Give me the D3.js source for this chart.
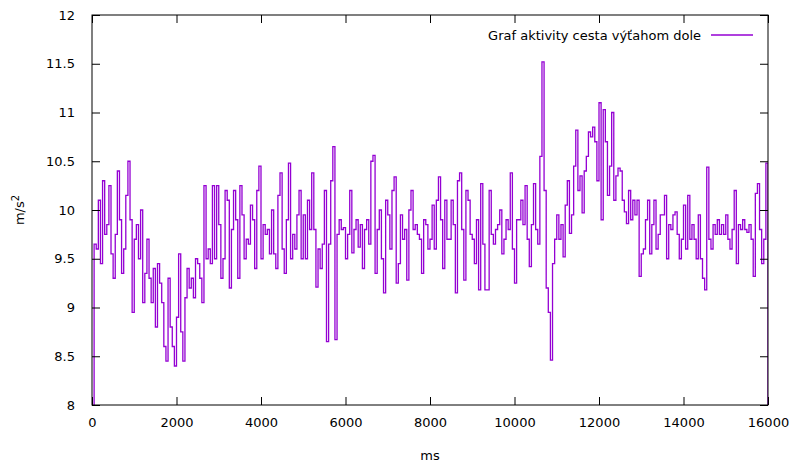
<!DOCTYPE html>
<html lang="sk">
    <head>
        <meta charset="UTF-8">
        <title>Graf aktivity</title>
        <script src="https://d3js.org/d3.v7.min.js"></script>
        <style>
            body {margin: 0; background: white;}
            text {font-family: "DejaVu Sans", Verdana, sans-serif; font-size: 13px; fill: #000;}
        </style>
    </head>
    <body>
        <svg width="799" height="466"></svg>

        <script>
            // sample step in ms, values in m/s^2
            const stepMs = 50;
            const accel = [
                0, 9.65, 9.6, 10.1, 9.45, 10.3, 9.75, 9.85, 10.25, 9.55,
                9.3, 9.75, 10.4, 9.9, 9.35, 9.6, 10.15, 10.5, 9.9, 8.95,
                9.7, 9.85, 9.5, 10.0, 9.05, 9.35, 9.7, 9.3, 9.05, 9.4,
                8.8, 9.45, 9.25, 9.05, 8.6, 8.45, 9.3, 8.8, 8.6, 8.4,
                8.9, 9.55, 8.75, 8.45, 9.1, 9.4, 9.2, 9.3, 9.1, 9.5,
                9.45, 9.3, 9.05, 10.25, 9.5, 9.6, 9.45, 10.25, 9.5, 10.25,
                9.85, 9.3, 9.5, 10.2, 10.1, 9.2, 9.8, 10.2, 9.9, 9.3,
                10.25, 9.95, 9.5, 9.7, 9.65, 10.05, 9.9, 9.4, 10.2, 10.45,
                9.5, 9.85, 9.75, 9.8, 9.55, 10.0, 9.55, 9.4, 10.15, 10.38,
                9.6, 9.35, 9.9, 10.48, 9.5, 9.75, 9.6, 9.95, 10.2, 9.5,
                9.95, 9.5, 10.1, 9.8, 10.38, 9.8, 9.21, 9.6, 9.4, 9.65,
                10.2, 8.65, 9.65, 10.3, 10.65, 8.67, 9.75, 9.9, 9.8, 9.82,
                9.5, 9.75, 10.2, 9.56, 9.8, 9.9, 9.62, 9.85, 9.4, 9.8,
                9.9, 9.65, 10.5, 10.56, 9.35, 9.8, 10.0, 9.5, 9.15, 10.1,
                9.95, 9.6, 10.2, 10.34, 9.25, 9.45, 9.95, 9.7, 9.8, 9.28,
                10.0, 10.2, 9.8, 9.85, 9.75, 9.7, 9.35, 9.9, 9.85, 9.6,
                9.7, 10.05, 9.6, 10.1, 10.34, 9.9, 9.4, 10.1, 9.7, 9.7,
                10.1, 9.85, 9.15, 10.3, 10.38, 9.8, 9.28, 10.2, 10.1, 9.75,
                9.7, 9.45, 9.9, 9.18, 10.27, 9.65, 9.18, 9.18, 10.2, 9.75,
                9.65, 9.8, 9.85, 10.0, 9.55, 9.7, 9.9, 9.8, 10.38, 9.6,
                9.25, 9.9, 9.9, 10.1, 9.85, 10.25, 9.7, 9.42, 9.85, 10.27,
                9.8, 9.65, 10.55, 11.52, 10.2, 9.2, 8.95, 8.46, 9.45, 9.7,
                9.95, 9.7, 9.85, 9.52, 10.05, 10.3, 9.76, 9.95, 10.45, 10.82,
                10.2, 10.35, 9.97, 10.4, 10.55, 10.8, 10.75, 10.85, 10.7, 10.3,
                11.1, 9.9, 11.03, 10.7, 10.15, 10.45, 11.0, 10.1, 10.35, 10.43,
                10.4, 10.1, 9.98, 9.86, 10.2, 9.9, 10.1, 9.95, 10.1, 9.32,
                9.55, 9.6, 9.9, 10.1, 9.55, 9.85, 10.1, 9.6, 9.75, 9.95,
                9.95, 10.15, 9.5, 9.85, 9.8, 9.95, 9.98, 9.75, 9.5, 9.7,
                10.05, 9.6, 10.15, 9.7, 9.85, 9.7, 9.5, 9.95, 9.5, 9.3,
                9.18, 10.44, 9.7, 9.6, 9.85, 9.75, 9.9, 9.75, 9.85, 9.75,
                9.95, 9.7, 9.6, 9.8, 10.2, 9.45, 9.85, 9.8, 9.9, 9.8,
                9.77, 9.85, 9.7, 9.32, 10.17, 10.27, 9.8, 9.45, 9.7, 10.48,
                0
            ];
            const xTicks = [0, 2000, 4000, 6000, 8000, 10000, 12000, 14000, 16000];
            const yTicks = [8, 8.5, 9, 9.5, 10, 10.5, 11, 11.5, 12];
            const seriesName = "Graf aktivity cesta výťahom dole";

            const pLeft = 92, pRight = 768, pTop = 15, pBottom = 405;
            var x = d3.scaleLinear().domain([0, 16000]).range([pLeft, pRight]);
            var y = d3.scaleLinear().domain([8, 12]).range([pBottom, pTop]);

            var svg = d3.select("svg");

            svg.append("clipPath").attr("id", "clip")
                .append("rect").attr("x", pLeft).attr("y", pTop)
                .attr("width", pRight - pLeft).attr("height", pBottom - pTop);

            // data line, gnuplot "steps" style
            var line = d3.line()
                .x(function(d, i) {return x(i * stepMs);})
                .y(function(d) {return y(d);})
                .curve(d3.curveStepAfter);

            svg.append("path").datum(accel)
                .attr("clip-path", "url(#clip)")
                .attr("d", line)
                .attr("fill", "none")
                .attr("stroke", "#9400d3")
                .attr("stroke-width", 1.3);

            // axes with inward ticks, mirrored on top and right
            function bare(g) {g.select(".domain").remove(); g.selectAll("text").remove();}

            var gx = svg.append("g").attr("transform", "translate(0," + pBottom + ")")
                .call(d3.axisBottom(x).tickValues(xTicks).tickSizeInner(-8).tickSizeOuter(0).tickPadding(13)
                .tickFormat(d3.format("d")));
            gx.select(".domain").remove();

            svg.append("g").attr("transform", "translate(0," + pTop + ")")
                .call(d3.axisTop(x).tickValues(xTicks).tickSizeInner(-8).tickSizeOuter(0)).call(bare);

            var gy = svg.append("g").attr("transform", "translate(" + pLeft + ",0)")
                .call(d3.axisLeft(y).tickValues(yTicks).tickSizeInner(-8).tickSizeOuter(0).tickPadding(17)
                .tickFormat(d3.format("~g")));
            gy.select(".domain").remove();

            svg.append("g").attr("transform", "translate(" + pRight + ",0)")
                .call(d3.axisRight(y).tickValues(yTicks).tickSizeInner(-8).tickSizeOuter(0)).call(bare);

            svg.selectAll(".tick line").attr("stroke", "#000");
            svg.selectAll(".tick text").style("font-size", "13px").style("font-family", "DejaVu Sans");

            svg.append("rect").attr("x", pLeft).attr("y", pTop)
                .attr("width", pRight - pLeft).attr("height", pBottom - pTop)
                .attr("fill", "none").attr("stroke", "#000").attr("stroke-width", 1);

            // axis titles
            svg.append("text").attr("x", (pLeft + pRight) / 2).attr("y", 460)
                .attr("text-anchor", "middle").text("ms");

            var yl = svg.append("text").attr("transform", "translate(24," + ((pTop + pBottom) / 2) + ") rotate(-90)")
                .attr("text-anchor", "middle");
            yl.append("tspan").text("m/s");
            yl.append("tspan").attr("dy", -5).style("font-size", "10px").text("2");

            // legend
            svg.append("text").attr("x", 701).attr("y", 40)
                .attr("text-anchor", "end").text(seriesName);
            svg.append("line").attr("x1", 711).attr("x2", 753).attr("y1", 35).attr("y2", 35)
                .attr("stroke", "#9400d3").attr("stroke-width", 1.3);
        </script>
    </body>
</html>
